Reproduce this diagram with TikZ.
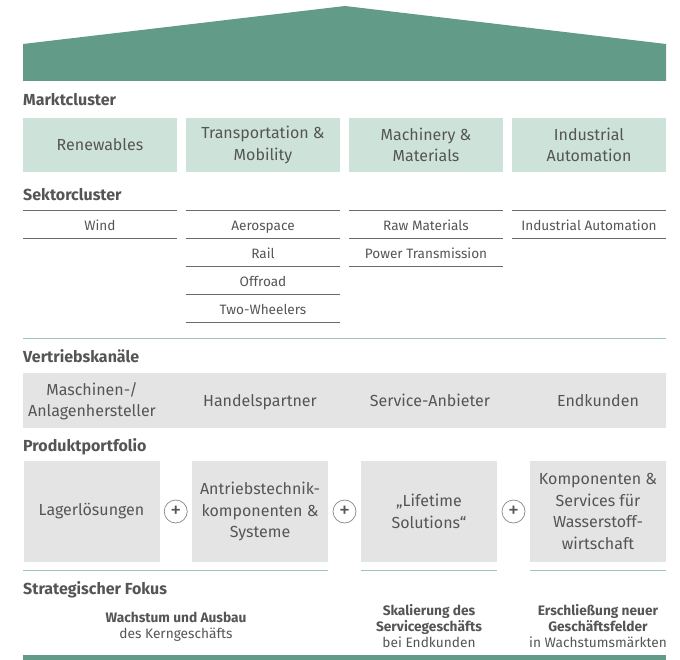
\documentclass[tikz,border=0pt]{standalone}
\usepackage{fontspec}
\setmainfont{Fira Sans}
\usetikzlibrary{calc}
\definecolor{roofgreen}{HTML}{629B87}
\definecolor{marktgreen}{HTML}{CDE3DA}
\definecolor{boxgray}{HTML}{E3E4E3}
\definecolor{linegreen}{HTML}{9CC6B7}
\definecolor{txtgray}{HTML}{555555}
\definecolor{rulegray}{HTML}{6A6A6A}
\newcommand{\boxfont}{\fontsize{16}{21.5}\selectfont}
\newcommand{\sektorfont}{\fontsize{13.6}{16}\selectfont}
\begin{document}
\begin{tikzpicture}[x=1pt, y=-1pt,
  heading/.style={anchor=west, inner sep=0pt, text=txtgray, font=\bfseries\fontsize{16}{18}\selectfont},
  marktbox/.style={fill=marktgreen, minimum width=154pt, minimum height=54pt, inner sep=0pt, align=center, text=txtgray, font=\boxfont},
  sektor/.style={anchor=base, inner sep=0pt, text=txtgray, font=\sektorfont},
  sektorrule/.style={rulegray, line width=0.9pt},
  kanal/.style={inner sep=0pt, align=center, text=txtgray, font=\boxfont},
  produktbox/.style={fill=boxgray, minimum width=136pt, minimum height=101pt, inner sep=0pt, align=center, text=txtgray, font=\boxfont},
  plus/.style={circle, draw=rulegray!80, fill=white, line width=0.7pt, minimum size=23pt, inner sep=0pt, text=txtgray, font=\fontsize{22}{22}\selectfont},
  fokus/.style={inner sep=0pt, align=center, text=txtgray, font=\fontsize{13.7}{16}\selectfont}
]
  \useasboundingbox (0,0) rectangle (680,660);

  % roof
  \fill[roofgreen] (23,81) -- (23,44) -- (345,6) -- (666,44) -- (666,81) -- cycle;

  % Marktcluster
  \node[heading] (marktcluster) at (23,100) {Marktcluster};
  \node[marktbox] (renewables) at (100,145) {Renewables};
  \node[marktbox] (transport) at (263,145) {Transportation \&\\Mobility};
  \node[marktbox] (machinery) at (426,145) {Machinery \&\\Materials};
  \node[marktbox] (automation) at (589,145) {Industrial\\Automation};

  % Sektorcluster
  \node[heading] (sektorcluster) at (23,195) {Sektorcluster};
  \foreach \x in {23,186,349,512} {
    \draw[sektorrule] (\x,210) -- ({\x+154},210);
  }
  \node[sektor] (wind) at (100,230.5) {Wind};
  \node[sektor] (aerospace) at (263,230.5) {Aerospace};
  \node[sektor] (rail) at (263,258.5) {Rail};
  \node[sektor] (offroad) at (263,286.5) {Offroad};
  \node[sektor] (twowheelers) at (263,314.5) {Two-Wheelers};
  \node[sektor] (rawmaterials) at (426,230.5) {Raw Materials};
  \node[sektor] (power) at (426,258.5) {Power Transmission};
  \node[sektor] (indauto) at (589,230.5) {Industrial Automation};
  \foreach \x/\n in {23/1,186/4,349/2,512/1} {
    \foreach \i in {1,...,\n} {
      \draw[sektorrule] (\x,{210+28*\i}) -- ({\x+154},{210+28*\i});
    }
  }
  \draw[linegreen, line width=1pt] (23,338) -- (666,338);

  % Vertriebskanaele
  \node[heading] (vertrieb) at (23,356) {Vertriebskanäle};
  \fill[boxgray] (23,373) rectangle (666,428);
  \node[kanal] (maschinen) at (92,401) {Maschinen-/\\Anlagenhersteller};
  \node[kanal, anchor=base] (handel) at (260,406) {Handelspartner};
  \node[kanal, anchor=base] (service) at (430,406) {Service-Anbieter};
  \node[kanal, anchor=base] (endkunden) at (598,406) {Endkunden};

  % Produktportfolio
  \node[heading] (portfolio) at (23,447) {Produktportfolio};
  \node[produktbox] (lager) at (91.5,511.5) {Lagerlösungen};
  \node[produktbox] (antrieb) at (260,511.5) {Antriebstechnik-\\komponenten \&\\Systeme};
  \node[produktbox] (lifetime) at (429,511.5) {„Lifetime\\Solutions“};
  \node[produktbox] (wasserstoff) at (598,511.5) {Komponenten \&\\Services für\\Wasserstoff-\\wirtschaft};
  \foreach \a/\b in {lager/antrieb,antrieb/lifetime,lifetime/wasserstoff} {
    \node[plus] (plus-\a) at ($(\a.east)!0.5!(\b.west)$) {+};
  }
  \foreach \a/\b in {23/328,361/497,530/666} {
    \draw[linegreen, line width=1pt] (\a,570) -- (\b,570);
  }

  % Strategischer Fokus
  \node[heading] (fokus) at (23,590) {Strategischer Fokus};
  \node[fokus] (kern) at (176,627) {\textbf{Wachstum und Ausbau}\\des Kerngeschäfts};
  \node[fokus] (skalierung) at (429,626) {\textbf{Skalierung des}\\\textbf{Servicegeschäfts}\\bei Endkunden};
  \node[fokus] (erschliessung) at (598,626) {\textbf{Erschließung neuer}\\\textbf{Geschäftsfelder}\\in Wachstumsmärkten};
  \fill[roofgreen] (23,655) rectangle (666,660);
\end{tikzpicture}
\end{document}
